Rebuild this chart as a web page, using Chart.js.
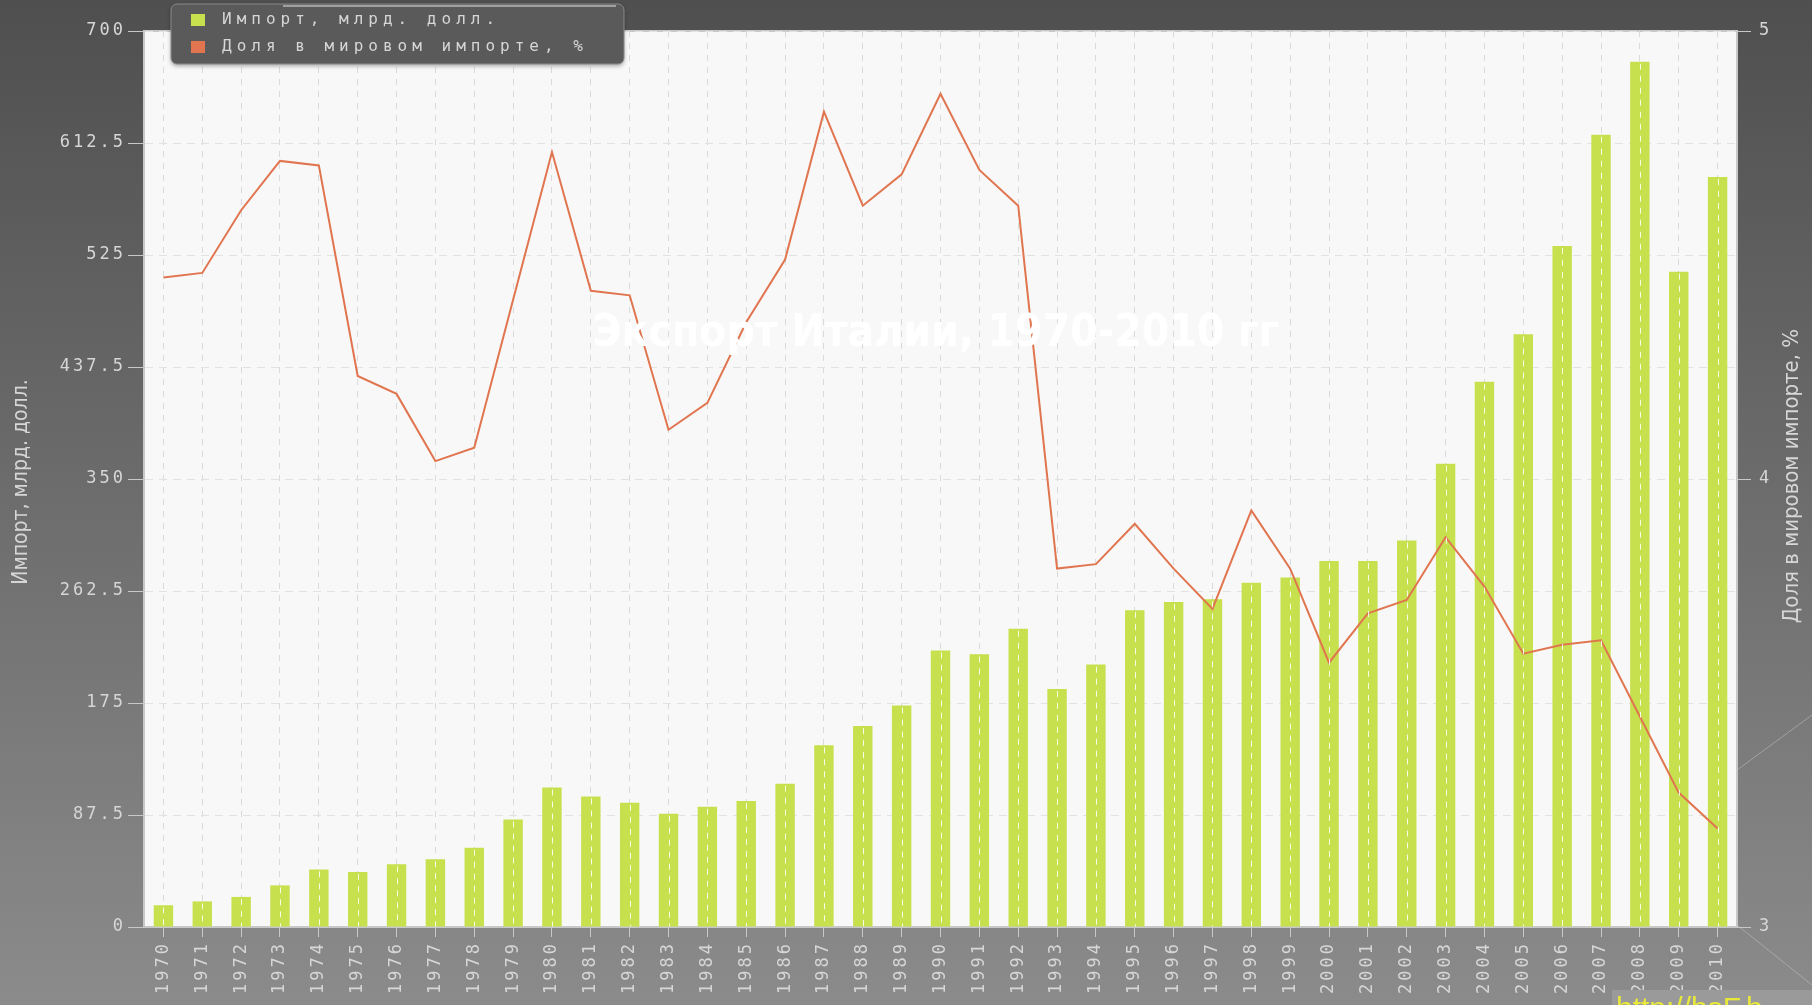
<!DOCTYPE html>
<html>
<head>
<meta charset="utf-8">
<script src="https://cdn.jsdelivr.net/npm/chart.js@4.4.0/dist/chart.umd.min.js"></script>
<style>
    html, body { margin: 0; padding: 0; background: #555; }
    #wrap { width: 1812px; height: 1005px; }
</style>
</head>
<body>
<div id="wrap"><canvas id="chart" width="1812" height="1005"></canvas></div>
<script>
// Chart data
const years = ['1970','1971','1972','1973','1974','1975','1976','1977','1978','1979',
               '1980','1981','1982','1983','1984','1985','1986','1987','1988','1989',
               '1990','1991','1992','1993','1994','1995','1996','1997','1998','1999',
               '2000','2001','2002','2003','2004','2005','2006','2007','2008','2009','2010'];

const importBn = [17, 20, 23.5, 32.5, 45, 43, 49, 53, 62, 84,
                  109, 102, 97, 88.5, 94, 98.5, 112, 142, 157, 173,
                  216, 213, 233, 186, 205, 247.5, 254, 256, 269, 273,
                  286, 286, 302, 362, 426, 463, 532, 619, 676, 512, 586];

const worldShare = [4.45, 4.46, 4.60, 4.71, 4.70, 4.23, 4.19, 4.04, 4.07, 4.40,
                    4.73, 4.42, 4.41, 4.11, 4.17, 4.35, 4.49, 4.82, 4.61, 4.68,
                    4.86, 4.69, 4.61, 3.80, 3.81, 3.90, 3.80, 3.71, 3.93, 3.80,
                    3.59, 3.70, 3.73, 3.87, 3.76, 3.61, 3.63, 3.64, 3.47, 3.30, 3.22];

const leftTicks = [0, 87.5, 175, 262.5, 350, 437.5, 525, 612.5, 700];
const rightTicks = [3, 4, 5];

const seriesNames = ['Импорт, млрд. долл.', 'Доля в мировом импорте, %'];
const chartTitle = 'Экспорт Италии, 1970-2010 гг';

const barColor = '#c6e04e';
const lineColor = '#e0754f';
const labelColor = '#d6d6d6';
const monoFont = "'DejaVu Sans Mono', monospace";
const titleFont = "'DejaVu Sans Condensed', sans-serif";

// background, plot area and overlay texts
const decorPlugin = {
    id: 'decor',
    beforeDraw(chart) {
        const ctx = chart.ctx;
        const a = chart.chartArea;
        ctx.save();
        const g = ctx.createLinearGradient(0, 0, 0, chart.height);
        g.addColorStop(0, '#4f4f4f');
        g.addColorStop(1, '#8b8b8b');
        ctx.fillStyle = g;
        ctx.fillRect(0, 0, chart.width, chart.height);

        ctx.strokeStyle = 'rgba(200,200,200,0.5)';
        ctx.lineWidth = 1;
        ctx.beginPath();
        ctx.moveTo(a.right, 770); ctx.lineTo(chart.width, 715);
        ctx.moveTo(a.right, 925); ctx.lineTo(chart.width, 985);
        ctx.stroke();

        ctx.fillStyle = '#f8f8f8';
        ctx.fillRect(a.left, a.top, a.right - a.left, a.bottom - a.top);
        ctx.strokeStyle = '#c8c8c8';
        ctx.lineWidth = 2;
        ctx.strokeRect(a.left, a.top, a.right - a.left, a.bottom - a.top);
        ctx.restore();
        // spaced-out tick labels, like the pixel font of the original
        ctx.letterSpacing = '3px';
    },
    afterDatasetsDraw(chart) {
        // the dashed category grid shows through the bars
        const ctx = chart.ctx;
        const meta = chart.getDatasetMeta(1);
        ctx.save();
        ctx.strokeStyle = 'rgba(255,255,255,0.85)';
        ctx.lineWidth = 1;
        ctx.setLineDash([6, 6]);
        meta.data.forEach(bar => {
            ctx.beginPath();
            ctx.moveTo(Math.round(bar.x) + 0.5, bar.y + 2);
            ctx.lineTo(Math.round(bar.x) + 0.5, bar.base);
            ctx.stroke();
        });
        ctx.restore();
    },
    afterDraw(chart) {
        const ctx = chart.ctx;
        const a = chart.chartArea;
        ctx.letterSpacing = '0px';
        ctx.save();

        // axis titles, both reading bottom to top
        const midY = (a.top + a.bottom) / 2;
        ctx.fillStyle = labelColor;
        ctx.font = '21px ' + titleFont;
        ctx.textAlign = 'center';
        ctx.textBaseline = 'middle';
        ctx.save();
        ctx.translate(22, midY + 3);
        ctx.rotate(-Math.PI / 2);
        ctx.fillText(seriesNames[0], 0, 0);
        ctx.restore();
        ctx.save();
        ctx.translate(1792, midY - 3);
        ctx.rotate(-Math.PI / 2);
        ctx.font = '22px ' + titleFont;
        ctx.fillText(seriesNames[1], 0, 0);
        ctx.restore();

        // title, white on the plot
        ctx.fillStyle = '#ffffff';
        ctx.font = "bold 44px 'Liberation Sans Narrow', 'DejaVu Sans Condensed', sans-serif";
        ctx.fillText(chartTitle, 936, 335);

        // legend box
        const bx = 171, by = 4, bw = 453, bh = 60, r = 6;
        ctx.shadowColor = 'rgba(0,0,0,0.35)';
        ctx.shadowBlur = 4;
        ctx.shadowOffsetY = 2;
        ctx.fillStyle = '#5a5a5a';
        ctx.beginPath();
        ctx.roundRect(bx, by, bw, bh, r);
        ctx.fill();
        ctx.shadowColor = 'transparent';
        ctx.strokeStyle = '#8a8a8a';
        ctx.lineWidth = 1;
        ctx.stroke();
        ctx.strokeStyle = '#e6e6e6';
        ctx.beginPath();
        ctx.moveTo(283, 6); ctx.lineTo(616, 6);
        ctx.stroke();

        const colors = [barColor, lineColor];
        ctx.font = '16px ' + monoFont;
        ctx.letterSpacing = '5px';
        ctx.textAlign = 'left';
        seriesNames.forEach((name, i) => {
            const y = 20 + i * 27;
            ctx.fillStyle = colors[i];
            ctx.fillRect(191, y - 6, 14, 12);
            ctx.fillStyle = labelColor;
            ctx.fillText(name, 222, y);
        });
        ctx.letterSpacing = '0px';

        // watermark, cut by the bottom edge
        ctx.fillStyle = '#9a9a9a';
        ctx.fillRect(1612, 990, 200, 15);
        ctx.fillStyle = '#e8e83a';
        ctx.font = '30px sans-serif';
        ctx.textBaseline = 'alphabetic';
        ctx.fillText('http://bsF.b', 1616, 1018);
        ctx.restore();
    }
};

const ctx = document.getElementById('chart').getContext('2d');
new Chart(ctx, {
    type: 'bar',
    data: {
        labels: years,
        datasets: [
            {
                type: 'line',
                label: seriesNames[1],
                data: worldShare,
                borderColor: lineColor,
                borderWidth: 2,
                pointRadius: 0,
                tension: 0,
                yAxisID: 'y1',
                order: 0
            },
            {
                label: seriesNames[0],
                data: importBn,
                backgroundColor: barColor,
                barPercentage: 0.5,
                categoryPercentage: 1,
                yAxisID: 'y',
                order: 1
            }
        ]
    },
    options: {
        responsive: false,
        animation: false,
        layout: { padding: { top: 31, left: 0, right: 0, bottom: 0 } },
        plugins: {
            legend: { display: false },
            tooltip: { enabled: false },
            title: { display: false }
        },
        scales: {
            x: {
                offset: true,
                grid: {
                    offset: false,
                    color: '#dadada',
                    tickColor: '#c8c8c8',
                    tickLength: 10
                },
                border: { color: '#c8c8c8', width: 2, dash: [6, 6] },
                ticks: {
                    color: labelColor,
                    font: { family: monoFont, size: 17 },
                    minRotation: 90,
                    maxRotation: 90,
                    autoSkip: false,
                    padding: 4
                },
                afterFit(scale) { scale.height = 78; }
            },
            y: {
                position: 'left',
                min: 0,
                max: 700,
                afterBuildTicks(scale) { scale.ticks = leftTicks.map(v => ({ value: v })); },
                grid: {
                    color: '#e2e2e2',
                    tickColor: '#c8c8c8',
                    tickLength: 16
                },
                border: { color: '#c8c8c8', width: 2, dash: [8, 6] },
                ticks: {
                    color: labelColor,
                    font: { family: monoFont, size: 17 },
                    padding: 2,
                    callback: v => String(v)
                },
                afterFit(scale) { scale.width = 144; }
            },
            y1: {
                position: 'right',
                min: 3,
                max: 5,
                afterBuildTicks(scale) { scale.ticks = rightTicks.map(v => ({ value: v })); },
                grid: {
                    drawOnChartArea: false,
                    tickColor: '#c8c8c8',
                    tickLength: 14
                },
                border: { color: '#c8c8c8', width: 2 },
                ticks: {
                    color: labelColor,
                    font: { family: monoFont, size: 17 },
                    padding: 8
                },
                afterFit(scale) { scale.width = 75; }
            }
        }
    },
    plugins: [decorPlugin]
});
</script>
</body>
</html>
